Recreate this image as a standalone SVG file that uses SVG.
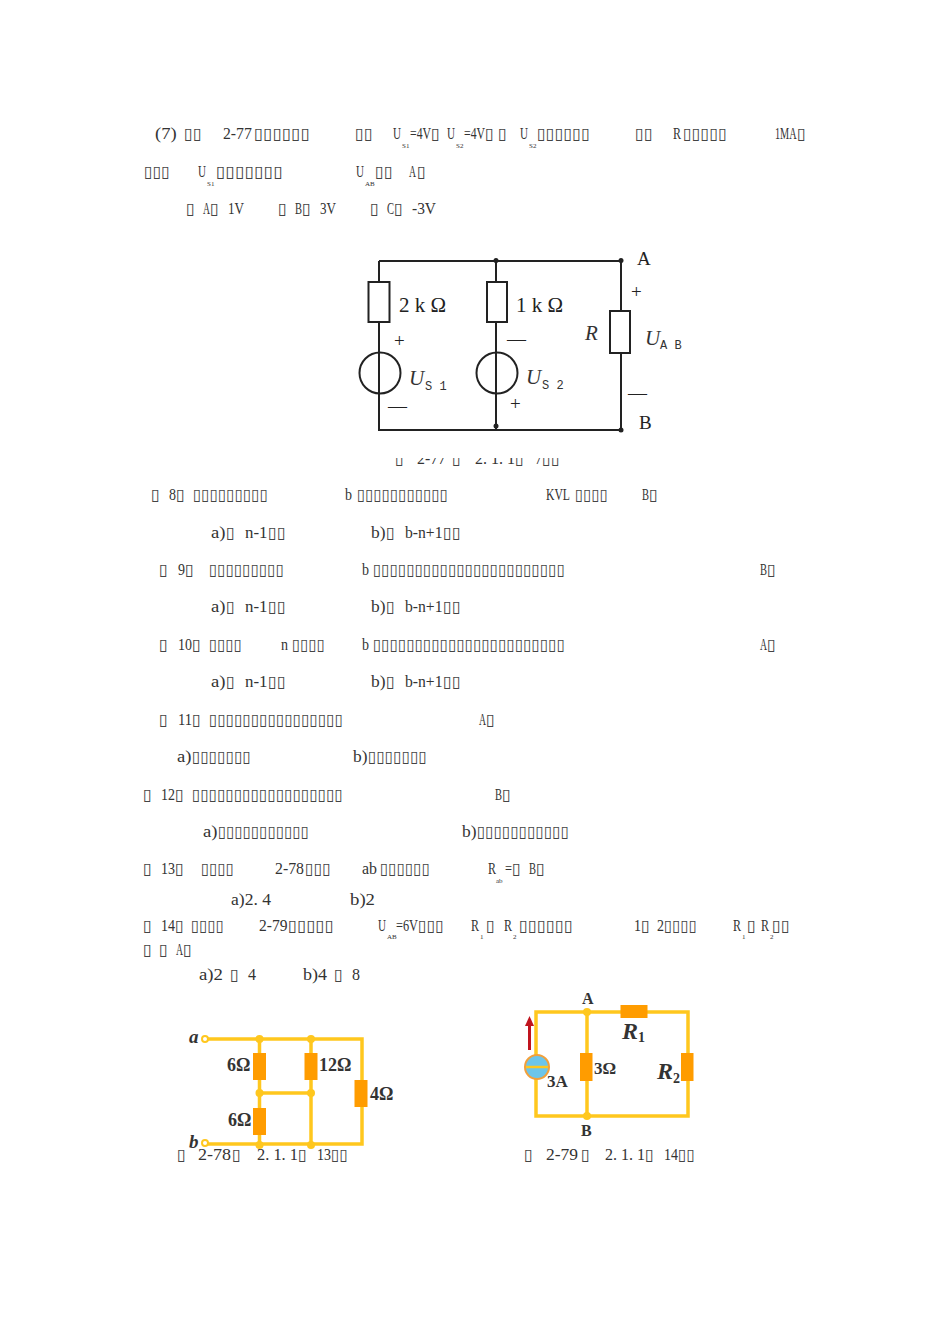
<svg xmlns="http://www.w3.org/2000/svg" width="950" height="1344" viewBox="0 0 950 1344">
<style>
text{fill:#222}
.t{font:16px "Liberation Serif","DejaVu Serif",serif;fill:#333}
.b{font:16px "DejaVu Sans",sans-serif;fill:#444}
.s{font:7px "Liberation Serif",serif;fill:#333}
.c{font:21px "Liberation Serif",serif;fill:#222}
.p{font:19px "Liberation Serif",serif;fill:#222}
.i{font:italic 21px "Liberation Serif",serif;fill:#333}
.m{font:12px "Liberation Mono",monospace;fill:#333}
.y{font:bold 19px "Liberation Serif",serif;fill:#333}
.k{fill:none;stroke:#222;stroke-width:2}
.w{fill:none;stroke:#FFC71E;stroke-width:3.500}
.r{fill:#FF9C00}
.d{fill:#FFC71E}
</style>
<defs><clipPath id="cut"><rect x="380" y="458" width="200" height="12"/></clipPath></defs>
<g id="q7">
<text class="t" x="155" y="139" textLength="21.6" lengthAdjust="spacingAndGlyphs">(7)</text>
<text class="b" x="184" y="139" textLength="17.8" lengthAdjust="spacingAndGlyphs">▯▯</text>
<text class="t" x="223" y="139" textLength="28.8" lengthAdjust="spacingAndGlyphs">2-77</text>
<text class="b" x="254" y="139" textLength="56" lengthAdjust="spacingAndGlyphs">▯▯▯▯▯▯</text>
<text class="b" x="355" y="139" textLength="17.8" lengthAdjust="spacingAndGlyphs">▯▯</text>
<text class="t" x="393" y="139" textLength="8" lengthAdjust="spacingAndGlyphs">U</text>
<text class="s" x="402" y="148">S1</text>
<text class="t" x="410" y="139" textLength="21" lengthAdjust="spacingAndGlyphs">=4V</text>
<text class="b" x="431" y="139" textLength="9" lengthAdjust="spacingAndGlyphs">▯</text>
<text class="t" x="447" y="139" textLength="8" lengthAdjust="spacingAndGlyphs">U</text>
<text class="s" x="456" y="148">S2</text>
<text class="t" x="464" y="139" textLength="21" lengthAdjust="spacingAndGlyphs">=4V</text>
<text class="b" x="485" y="139" textLength="9" lengthAdjust="spacingAndGlyphs">▯</text>
<text class="b" x="498" y="139" textLength="9" lengthAdjust="spacingAndGlyphs">▯</text>
<text class="t" x="520" y="139" textLength="8" lengthAdjust="spacingAndGlyphs">U</text>
<text class="s" x="529" y="148">S2</text>
<text class="b" x="537" y="139" textLength="53" lengthAdjust="spacingAndGlyphs">▯▯▯▯▯▯</text>
<text class="b" x="635" y="139" textLength="17.8" lengthAdjust="spacingAndGlyphs">▯▯</text>
<text class="t" x="673" y="139" textLength="8" lengthAdjust="spacingAndGlyphs">R</text>
<text class="b" x="683" y="139" textLength="44" lengthAdjust="spacingAndGlyphs">▯▯▯▯▯</text>
<text class="t" x="775" y="139" textLength="21.6" lengthAdjust="spacingAndGlyphs">1MA</text>
<text class="b" x="797" y="139" textLength="9" lengthAdjust="spacingAndGlyphs">▯</text>
<text class="b" x="144" y="177" textLength="26" lengthAdjust="spacingAndGlyphs">▯▯▯</text>
<text class="t" x="198" y="177" textLength="8" lengthAdjust="spacingAndGlyphs">U</text>
<text class="s" x="207" y="186">S1</text>
<text class="b" x="216" y="177" textLength="67" lengthAdjust="spacingAndGlyphs">▯▯▯▯▯▯▯</text>
<text class="t" x="356" y="177" textLength="8" lengthAdjust="spacingAndGlyphs">U</text>
<text class="s" x="365" y="186">AB</text>
<text class="b" x="375" y="177" textLength="17.8" lengthAdjust="spacingAndGlyphs">▯▯</text>
<text class="t" x="409" y="177" textLength="7" lengthAdjust="spacingAndGlyphs">A</text>
<text class="b" x="417" y="177" textLength="9" lengthAdjust="spacingAndGlyphs">▯</text>
<text class="b" x="186" y="214" textLength="9" lengthAdjust="spacingAndGlyphs">▯</text>
<text class="t" x="203" y="214" textLength="7" lengthAdjust="spacingAndGlyphs">A</text>
<text class="b" x="210" y="214" textLength="9" lengthAdjust="spacingAndGlyphs">▯</text>
<text class="t" x="228" y="214" textLength="16" lengthAdjust="spacingAndGlyphs">1V</text>
<text class="b" x="278" y="214" textLength="9" lengthAdjust="spacingAndGlyphs">▯</text>
<text class="t" x="295" y="214" textLength="7" lengthAdjust="spacingAndGlyphs">B</text>
<text class="b" x="302" y="214" textLength="9" lengthAdjust="spacingAndGlyphs">▯</text>
<text class="t" x="320" y="214" textLength="16" lengthAdjust="spacingAndGlyphs">3V</text>
<text class="b" x="370" y="214" textLength="9" lengthAdjust="spacingAndGlyphs">▯</text>
<text class="t" x="387" y="214" textLength="7" lengthAdjust="spacingAndGlyphs">C</text>
<text class="b" x="394" y="214" textLength="9" lengthAdjust="spacingAndGlyphs">▯</text>
<text class="t" x="412" y="214" textLength="24" lengthAdjust="spacingAndGlyphs">-3V</text>
</g>
<g id="figure-2-77">
<g id="connectors-277">
<path class="k" d="M379 261V430H621V261H379M496 261V430"/>
</g>
<g id="res-2k"><rect class="k" x="368.500" y="282" width="21" height="40" style="fill:#fff"/></g>
<g id="res-1k"><rect class="k" x="487" y="282" width="20" height="40" style="fill:#fff"/></g>
<g id="res-r"><rect class="k" x="610" y="311" width="20" height="42" style="fill:#fff"/></g>
<g id="us1"><circle class="k" cx="380" cy="373" r="20.500"/></g>
<g id="us2"><circle class="k" cx="497" cy="373" r="20.500"/></g>
<circle cx="496" cy="260.500" r="2.500" fill="#222"/><circle cx="496" cy="426" r="2.500" fill="#222"/>
<circle cx="621" cy="260.500" r="2.500" fill="#222"/><circle cx="621" cy="430" r="2.500" fill="#222"/>
<text class="p" x="637" y="265">A</text><text class="p" x="639" y="429">B</text>
<text class="p" x="631" y="298">+</text><text class="p" x="628" y="399">—</text>
<text class="c" x="399" y="312">2 k Ω</text><text class="c" x="516" y="312">1 k Ω</text>
<text class="i" x="585" y="340">R</text>
<text class="i" x="645" y="345">U</text><text class="m" x="660" y="349">A B</text>
<text class="p" x="394" y="347">+</text><text class="p" x="388" y="412">—</text>
<text class="p" x="507" y="345">—</text><text class="p" x="510" y="410">+</text>
<text class="i" x="409" y="385">U</text><text class="m" x="425" y="390">S 1</text>
<text class="i" x="526" y="384">U</text><text class="m" x="542" y="389">S 2</text>
<g clip-path="url(#cut)">
<text class="b" x="395" y="464" textLength="9" lengthAdjust="spacingAndGlyphs">▯</text>
<text class="t" x="417" y="464" textLength="29" lengthAdjust="spacingAndGlyphs">2-77</text>
<text class="b" x="452" y="464" textLength="9" lengthAdjust="spacingAndGlyphs">▯</text>
<text class="t" x="475" y="464" textLength="40" lengthAdjust="spacingAndGlyphs">2. 1. 1</text>
<text class="b" x="515" y="464" textLength="9" lengthAdjust="spacingAndGlyphs">▯</text>
<text class="t" x="535" y="464" textLength="7" lengthAdjust="spacingAndGlyphs">7</text>
<text class="b" x="542" y="464" textLength="17.800" lengthAdjust="spacingAndGlyphs">▯▯</text>
</g>
</g>
<g id="q8-q10">
<text class="b" x="151" y="500" textLength="9" lengthAdjust="spacingAndGlyphs">▯</text>
<text class="t" x="169" y="500" textLength="7" lengthAdjust="spacingAndGlyphs">8</text>
<text class="b" x="176" y="500" textLength="9" lengthAdjust="spacingAndGlyphs">▯</text>
<text class="b" x="193" y="500" textLength="75" lengthAdjust="spacingAndGlyphs">▯▯▯▯▯▯▯▯▯</text>
<text class="t" x="345" y="500" textLength="7" lengthAdjust="spacingAndGlyphs">b</text>
<text class="b" x="357" y="500" textLength="91" lengthAdjust="spacingAndGlyphs">▯▯▯▯▯▯▯▯▯▯▯</text>
<text class="t" x="546" y="500" textLength="24" lengthAdjust="spacingAndGlyphs">KVL</text>
<text class="b" x="575" y="500" textLength="33" lengthAdjust="spacingAndGlyphs">▯▯▯▯</text>
<text class="t" x="642" y="500" textLength="7" lengthAdjust="spacingAndGlyphs">B</text>
<text class="b" x="649" y="500" textLength="9" lengthAdjust="spacingAndGlyphs">▯</text>
<text class="t" x="211" y="538" textLength="14.500" lengthAdjust="spacingAndGlyphs">a)</text>
<text class="b" x="226" y="538" textLength="9" lengthAdjust="spacingAndGlyphs">▯</text>
<text class="t" x="245" y="538" textLength="22.500" lengthAdjust="spacingAndGlyphs">n-1</text>
<text class="b" x="268" y="538" textLength="17.800" lengthAdjust="spacingAndGlyphs">▯▯</text>
<text class="t" x="371" y="538" textLength="14.500" lengthAdjust="spacingAndGlyphs">b)</text>
<text class="b" x="386" y="538" textLength="9" lengthAdjust="spacingAndGlyphs">▯</text>
<text class="t" x="405" y="538" textLength="37.500" lengthAdjust="spacingAndGlyphs">b-n+1</text>
<text class="b" x="443" y="538" textLength="17.800" lengthAdjust="spacingAndGlyphs">▯▯</text>
<text class="b" x="159" y="575" textLength="9" lengthAdjust="spacingAndGlyphs">▯</text>
<text class="t" x="178" y="575" textLength="7" lengthAdjust="spacingAndGlyphs">9</text>
<text class="b" x="185" y="575" textLength="9" lengthAdjust="spacingAndGlyphs">▯</text>
<text class="b" x="209" y="575" textLength="75" lengthAdjust="spacingAndGlyphs">▯▯▯▯▯▯▯▯▯</text>
<text class="t" x="362" y="575" textLength="7" lengthAdjust="spacingAndGlyphs">b</text>
<text class="b" x="373" y="575" textLength="192" lengthAdjust="spacingAndGlyphs">▯▯▯▯▯▯▯▯▯▯▯▯▯▯▯▯▯▯▯▯▯▯▯</text>
<text class="t" x="760" y="575" textLength="7" lengthAdjust="spacingAndGlyphs">B</text>
<text class="b" x="767" y="575" textLength="9" lengthAdjust="spacingAndGlyphs">▯</text>
<text class="t" x="211" y="612" textLength="14.500" lengthAdjust="spacingAndGlyphs">a)</text>
<text class="b" x="226" y="612" textLength="9" lengthAdjust="spacingAndGlyphs">▯</text>
<text class="t" x="245" y="612" textLength="22.500" lengthAdjust="spacingAndGlyphs">n-1</text>
<text class="b" x="268" y="612" textLength="17.800" lengthAdjust="spacingAndGlyphs">▯▯</text>
<text class="t" x="371" y="612" textLength="14.500" lengthAdjust="spacingAndGlyphs">b)</text>
<text class="b" x="386" y="612" textLength="9" lengthAdjust="spacingAndGlyphs">▯</text>
<text class="t" x="405" y="612" textLength="37.500" lengthAdjust="spacingAndGlyphs">b-n+1</text>
<text class="b" x="443" y="612" textLength="17.800" lengthAdjust="spacingAndGlyphs">▯▯</text>
<text class="b" x="159" y="650" textLength="9" lengthAdjust="spacingAndGlyphs">▯</text>
<text class="t" x="178" y="650" textLength="14" lengthAdjust="spacingAndGlyphs">10</text>
<text class="b" x="192" y="650" textLength="9" lengthAdjust="spacingAndGlyphs">▯</text>
<text class="b" x="209" y="650" textLength="33" lengthAdjust="spacingAndGlyphs">▯▯▯▯</text>
<text class="t" x="281" y="650" textLength="7" lengthAdjust="spacingAndGlyphs">n</text>
<text class="b" x="292" y="650" textLength="33" lengthAdjust="spacingAndGlyphs">▯▯▯▯</text>
<text class="t" x="362" y="650" textLength="7" lengthAdjust="spacingAndGlyphs">b</text>
<text class="b" x="373" y="650" textLength="192" lengthAdjust="spacingAndGlyphs">▯▯▯▯▯▯▯▯▯▯▯▯▯▯▯▯▯▯▯▯▯▯▯</text>
<text class="t" x="760" y="650" textLength="7" lengthAdjust="spacingAndGlyphs">A</text>
<text class="b" x="767" y="650" textLength="9" lengthAdjust="spacingAndGlyphs">▯</text>
<text class="t" x="211" y="687" textLength="14.500" lengthAdjust="spacingAndGlyphs">a)</text>
<text class="b" x="226" y="687" textLength="9" lengthAdjust="spacingAndGlyphs">▯</text>
<text class="t" x="245" y="687" textLength="22.500" lengthAdjust="spacingAndGlyphs">n-1</text>
<text class="b" x="268" y="687" textLength="17.800" lengthAdjust="spacingAndGlyphs">▯▯</text>
<text class="t" x="371" y="687" textLength="14.500" lengthAdjust="spacingAndGlyphs">b)</text>
<text class="b" x="386" y="687" textLength="9" lengthAdjust="spacingAndGlyphs">▯</text>
<text class="t" x="405" y="687" textLength="37.500" lengthAdjust="spacingAndGlyphs">b-n+1</text>
<text class="b" x="443" y="687" textLength="17.800" lengthAdjust="spacingAndGlyphs">▯▯</text>
</g>
<g id="q11-q14">
<text class="b" x="159" y="725" textLength="9" lengthAdjust="spacingAndGlyphs">▯</text>
<text class="t" x="178" y="725" textLength="14" lengthAdjust="spacingAndGlyphs">11</text>
<text class="b" x="192" y="725" textLength="9" lengthAdjust="spacingAndGlyphs">▯</text>
<text class="b" x="209" y="725" textLength="134" lengthAdjust="spacingAndGlyphs">▯▯▯▯▯▯▯▯▯▯▯▯▯▯▯▯</text>
<text class="t" x="479" y="725" textLength="7" lengthAdjust="spacingAndGlyphs">A</text>
<text class="b" x="486" y="725" textLength="9" lengthAdjust="spacingAndGlyphs">▯</text>
<text class="t" x="177" y="762" textLength="14.500" lengthAdjust="spacingAndGlyphs">a)</text>
<text class="b" x="192" y="762" textLength="59" lengthAdjust="spacingAndGlyphs">▯▯▯▯▯▯▯</text>
<text class="t" x="353" y="762" textLength="14.500" lengthAdjust="spacingAndGlyphs">b)</text>
<text class="b" x="368" y="762" textLength="59" lengthAdjust="spacingAndGlyphs">▯▯▯▯▯▯▯</text>
<text class="b" x="143" y="800" textLength="9" lengthAdjust="spacingAndGlyphs">▯</text>
<text class="t" x="161" y="800" textLength="14" lengthAdjust="spacingAndGlyphs">12</text>
<text class="b" x="175" y="800" textLength="9" lengthAdjust="spacingAndGlyphs">▯</text>
<text class="b" x="192" y="800" textLength="151" lengthAdjust="spacingAndGlyphs">▯▯▯▯▯▯▯▯▯▯▯▯▯▯▯▯▯▯</text>
<text class="t" x="495" y="800" textLength="7" lengthAdjust="spacingAndGlyphs">B</text>
<text class="b" x="502" y="800" textLength="9" lengthAdjust="spacingAndGlyphs">▯</text>
<text class="t" x="203" y="837" textLength="14.500" lengthAdjust="spacingAndGlyphs">a)</text>
<text class="b" x="218" y="837" textLength="91" lengthAdjust="spacingAndGlyphs">▯▯▯▯▯▯▯▯▯▯▯</text>
<text class="t" x="462" y="837" textLength="14.500" lengthAdjust="spacingAndGlyphs">b)</text>
<text class="b" x="477" y="837" textLength="92" lengthAdjust="spacingAndGlyphs">▯▯▯▯▯▯▯▯▯▯▯</text>
<text class="b" x="143" y="874" textLength="9" lengthAdjust="spacingAndGlyphs">▯</text>
<text class="t" x="161" y="874" textLength="14" lengthAdjust="spacingAndGlyphs">13</text>
<text class="b" x="175" y="874" textLength="9" lengthAdjust="spacingAndGlyphs">▯</text>
<text class="b" x="201" y="874" textLength="33" lengthAdjust="spacingAndGlyphs">▯▯▯▯</text>
<text class="t" x="275" y="874" textLength="29" lengthAdjust="spacingAndGlyphs">2-78</text>
<text class="b" x="305" y="874" textLength="26" lengthAdjust="spacingAndGlyphs">▯▯▯</text>
<text class="t" x="362" y="874" textLength="15" lengthAdjust="spacingAndGlyphs">ab</text>
<text class="b" x="380" y="874" textLength="50" lengthAdjust="spacingAndGlyphs">▯▯▯▯▯▯</text>
<text class="t" x="488" y="874" textLength="8" lengthAdjust="spacingAndGlyphs">R</text>
<text class="s" x="496" y="883">ab</text>
<text class="t" x="505" y="874" textLength="7" lengthAdjust="spacingAndGlyphs">=</text>
<text class="b" x="512" y="874" textLength="9" lengthAdjust="spacingAndGlyphs">▯</text>
<text class="t" x="529" y="874" textLength="7" lengthAdjust="spacingAndGlyphs">B</text>
<text class="b" x="536" y="874" textLength="9" lengthAdjust="spacingAndGlyphs">▯</text>
<text class="t" x="231" y="905" textLength="40" lengthAdjust="spacingAndGlyphs">a)2. 4</text>
<text class="t" x="350" y="905" textLength="25" lengthAdjust="spacingAndGlyphs">b)2</text>
<text class="b" x="143" y="931" textLength="9" lengthAdjust="spacingAndGlyphs">▯</text>
<text class="t" x="161" y="931" textLength="14" lengthAdjust="spacingAndGlyphs">14</text>
<text class="b" x="175" y="931" textLength="9" lengthAdjust="spacingAndGlyphs">▯</text>
<text class="b" x="191" y="931" textLength="33" lengthAdjust="spacingAndGlyphs">▯▯▯▯</text>
<text class="t" x="259" y="931" textLength="28.500" lengthAdjust="spacingAndGlyphs">2-79</text>
<text class="b" x="288" y="931" textLength="46" lengthAdjust="spacingAndGlyphs">▯▯▯▯▯</text>
<text class="t" x="378" y="931" textLength="8" lengthAdjust="spacingAndGlyphs">U</text>
<text class="s" x="387" y="939">AB</text>
<text class="t" x="396" y="931" textLength="22" lengthAdjust="spacingAndGlyphs">=6V</text>
<text class="b" x="418" y="931" textLength="26" lengthAdjust="spacingAndGlyphs">▯▯▯</text>
<text class="t" x="471" y="931" textLength="8" lengthAdjust="spacingAndGlyphs">R</text>
<text class="s" x="480" y="939">1</text>
<text class="b" x="486" y="931" textLength="9" lengthAdjust="spacingAndGlyphs">▯</text>
<text class="t" x="504" y="931" textLength="8" lengthAdjust="spacingAndGlyphs">R</text>
<text class="s" x="513" y="939">2</text>
<text class="b" x="519" y="931" textLength="54" lengthAdjust="spacingAndGlyphs">▯▯▯▯▯▯</text>
<text class="t" x="634" y="931" textLength="7" lengthAdjust="spacingAndGlyphs">1</text>
<text class="b" x="641" y="931" textLength="9" lengthAdjust="spacingAndGlyphs">▯</text>
<text class="t" x="657" y="931" textLength="7" lengthAdjust="spacingAndGlyphs">2</text>
<text class="b" x="664" y="931" textLength="33" lengthAdjust="spacingAndGlyphs">▯▯▯▯</text>
<text class="t" x="733" y="931" textLength="8" lengthAdjust="spacingAndGlyphs">R</text>
<text class="s" x="742" y="939">1</text>
<text class="b" x="747" y="931" textLength="9" lengthAdjust="spacingAndGlyphs">▯</text>
<text class="t" x="761" y="931" textLength="8" lengthAdjust="spacingAndGlyphs">R</text>
<text class="s" x="770" y="939">2</text>
<text class="b" x="772" y="931" textLength="17.800" lengthAdjust="spacingAndGlyphs">▯▯</text>
<text class="b" x="143" y="955" textLength="9" lengthAdjust="spacingAndGlyphs">▯</text>
<text class="b" x="159" y="955" textLength="9" lengthAdjust="spacingAndGlyphs">▯</text>
<text class="t" x="176" y="955" textLength="7" lengthAdjust="spacingAndGlyphs">A</text>
<text class="b" x="183" y="955" textLength="9" lengthAdjust="spacingAndGlyphs">▯</text>
<text class="t" x="199" y="980" textLength="24" lengthAdjust="spacingAndGlyphs">a)2</text>
<text class="b" x="230" y="980" textLength="9" lengthAdjust="spacingAndGlyphs">▯</text>
<text class="t" x="248" y="980" textLength="8" lengthAdjust="spacingAndGlyphs">4</text>
<text class="t" x="303" y="980" textLength="24" lengthAdjust="spacingAndGlyphs">b)4</text>
<text class="b" x="334" y="980" textLength="9" lengthAdjust="spacingAndGlyphs">▯</text>
<text class="t" x="352" y="980" textLength="8" lengthAdjust="spacingAndGlyphs">8</text>
</g>
<g id="figure-2-78">
<g id="connectors-278">
<path class="w" d="M208 1039H362V1144H208M259.500 1039V1145M311 1039V1145M259.500 1093H311"/>
</g>
<circle cx="205" cy="1039" r="3" fill="#fff" stroke="#FFC71E" stroke-width="2"/>
<circle cx="205" cy="1143" r="3" fill="#fff" stroke="#FFC71E" stroke-width="2"/>
<circle class="d" cx="259.500" cy="1039" r="4"/><circle class="d" cx="311" cy="1039" r="4"/>
<circle class="d" cx="259.500" cy="1093" r="4"/><circle class="d" cx="311" cy="1093" r="4"/>
<circle class="d" cx="259.500" cy="1145" r="4"/><circle class="d" cx="311" cy="1145" r="4"/>
<rect id="r6a" class="r" x="253" y="1053" width="13" height="27"/>
<rect id="r6b" class="r" x="253" y="1108" width="13" height="27"/>
<rect id="r12" class="r" x="304.500" y="1053" width="13" height="27"/>
<rect id="r4" class="r" x="354.500" y="1080" width="13" height="27"/>
<text class="y" x="227" y="1071" style="font-size:18px">6Ω</text><text class="y" x="319" y="1071" style="font-size:18px">12Ω</text>
<text class="y" x="370" y="1100" style="font-size:18px">4Ω</text><text class="y" x="228" y="1126" style="font-size:18px">6Ω</text>
<text class="y" x="189" y="1043" style="font-style:italic">a</text>
<text class="y" x="189" y="1148" style="font-style:italic">b</text>
<text class="b" x="177" y="1160" textLength="9" lengthAdjust="spacingAndGlyphs">▯</text>
<text class="t" x="198" y="1160" textLength="33" lengthAdjust="spacingAndGlyphs">2-78</text>
<text class="b" x="232" y="1160" textLength="9" lengthAdjust="spacingAndGlyphs">▯</text>
<text class="t" x="257" y="1160" textLength="41" lengthAdjust="spacingAndGlyphs">2. 1. 1</text>
<text class="b" x="298" y="1160" textLength="9" lengthAdjust="spacingAndGlyphs">▯</text>
<text class="t" x="317" y="1160" textLength="14" lengthAdjust="spacingAndGlyphs">13</text>
<text class="b" x="331" y="1160" textLength="17" lengthAdjust="spacingAndGlyphs">▯▯</text>
</g>
<g id="figure-2-79">
<g id="connectors-279">
<path class="w" d="M536 1012H688V1116H536ZM587 1012V1116"/>
<path d="M529.500 1050V1024" stroke="#C0141E" stroke-width="3" fill="none"/>
<path d="M529.500 1016L525 1026H534Z" fill="#C0141E"/>
</g>
<circle class="d" cx="587" cy="1012" r="4"/><circle class="d" cx="587" cy="1116" r="4"/>
<rect id="r1" class="r" x="620.500" y="1005" width="27" height="13"/>
<rect id="r3" class="r" x="580" y="1053" width="12.500" height="28"/>
<rect id="r2" class="r" x="681" y="1053" width="12.500" height="28"/>
<g id="src"><circle cx="537" cy="1067" r="12" fill="#6CC5EA" stroke="#F2A03C" stroke-width="2"/><path d="M526 1067H548" stroke="#FFC71E" stroke-width="2.500"/></g>
<text class="y" x="582" y="1004" style="font-size:16px">A</text><text class="y" x="581" y="1136" style="font-size:16px">B</text>
<text class="y" x="622" y="1039" style="font:italic bold 24px 'Liberation Serif',serif">R</text><text class="y" x="638" y="1042" style="font-size:14px">1</text>
<text class="y" x="594" y="1074" style="font-size:17px">3Ω</text>
<text class="y" x="657" y="1079" style="font:italic bold 24px 'Liberation Serif',serif">R</text><text class="y" x="673" y="1083" style="font-size:14px">2</text>
<text class="y" x="547" y="1087" style="font-size:17px">3A</text>
<text class="b" x="524" y="1160" textLength="9" lengthAdjust="spacingAndGlyphs">▯</text>
<text class="t" x="546" y="1160" textLength="32" lengthAdjust="spacingAndGlyphs">2-79</text>
<text class="b" x="581" y="1160" textLength="9" lengthAdjust="spacingAndGlyphs">▯</text>
<text class="t" x="605" y="1160" textLength="40" lengthAdjust="spacingAndGlyphs">2. 1. 1</text>
<text class="b" x="645" y="1160" textLength="9" lengthAdjust="spacingAndGlyphs">▯</text>
<text class="t" x="664" y="1160" textLength="14" lengthAdjust="spacingAndGlyphs">14</text>
<text class="b" x="678" y="1160" textLength="17" lengthAdjust="spacingAndGlyphs">▯▯</text>
</g>
</svg>
